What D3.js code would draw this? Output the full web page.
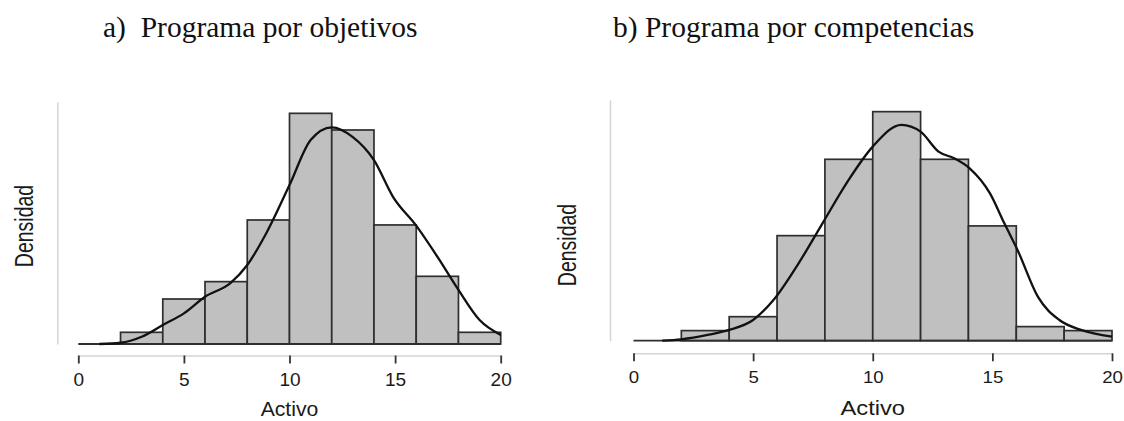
<!DOCTYPE html>
<html>
<head>
<meta charset="utf-8">
<script src="https://cdn.jsdelivr.net/npm/d3@7"></script>
<style>
  body { margin: 0; background: #fff; }
  svg { display: block; }
</style>
</head>
<body>
<svg id="chart" width="1124" height="421"></svg>
<script>
// histogram bins (start of each 2-wide bin) and densities
const binStarts = [2, 4, 6, 8, 10, 12, 14, 16, 18];
const binWidth = 2;
const densObjetivos = [0.0066, 0.0254, 0.0352, 0.0700, 0.1302, 0.1208, 0.0672, 0.0382, 0.0066];
const densCompetencias = [0.0058, 0.0138, 0.0604, 0.1043, 0.1317, 0.1043, 0.0660, 0.0081, 0.0058];

// density curves
const kdeXObjetivos = [1.0, 2.0, 3.0, 4.0, 5.0, 6.0, 7.2, 8.0, 8.9, 10, 11, 12, 13, 14, 14.9, 16, 17, 18, 19, 20];
const kdeYObjetivos = [0, 0.0007, 0.0041, 0.0107, 0.0173, 0.0267, 0.0343, 0.0446, 0.0625, 0.0897, 0.1151, 0.1223, 0.1168, 0.1038, 0.0831, 0.0668, 0.0493, 0.0305, 0.0135, 0.0051];
const kdeXCompetencias = [1.2, 2.0, 3.1, 4.0, 5.0, 5.85, 6.9, 7.9, 8.9, 10.0, 11.2, 12.0, 12.75, 13.4, 14.05, 14.9, 15.5, 16.05, 16.9, 17.8, 18.7, 20.0];
const kdeYCompetencias = [0, 0.0008, 0.0033, 0.0062, 0.0119, 0.0234, 0.0445, 0.0675, 0.0905, 0.1116, 0.1241, 0.1202, 0.1087, 0.1049, 0.0991, 0.0847, 0.0675, 0.0522, 0.0253, 0.0119, 0.0062, 0.0023];

const xTicks = [0, 5, 10, 15, 20];
const titles = ['a)  Programa por objetivos', 'b) Programa por competencias'];
const xLabel = 'Activo';
const yLabel = 'Densidad';

// layout of the two panels (the right one is a bit stretched sideways in the source)
const panels = [
  {
    title: titles[0], dens: densObjetivos, kx: kdeXObjetivos, ky: kdeYObjetivos,
    x0: 78.3, x1: 500.7, base: 344, top: 102, yMax: 0.1366,
    yAxisX: 57.3, xAxisY: 355.5, tickFont: 18, tickBase: 386,
    labelFont: 20, labelBase: 416, sx: 1.06,
    yLabX: 33, yLabY: 226, titleX: 103, titleY: 37
  },
  {
    title: titles[1], dens: densCompetencias, kx: kdeXCompetencias, ky: kdeYCompetencias,
    x0: 633.5, x1: 1112, base: 340.7, top: 100, yMax: 0.1384,
    yAxisX: 610, xAxisY: 353.3, tickFont: 16.5, tickBase: 383.5,
    labelFont: 21, labelBase: 415, sx: 1.13,
    yLabX: 576, yLabY: 245, titleX: 613, titleY: 37
  }
];

const svg = d3.select('#chart');
svg.append('rect').attr('width', 1124).attr('height', 421).attr('fill', '#fff');

panels.forEach((p) => {
  const x = d3.scaleLinear().domain([0, 20]).range([p.x0, p.x1]);
  const y = d3.scaleLinear().domain([0, p.yMax]).range([p.base, p.top]);
  const g = svg.append('g');

  // title
  g.append('text')
    .attr('x', p.titleX)
    .attr('y', p.titleY)
    .style('white-space', 'pre')
    .attr('font-family', '"Liberation Serif", "Times New Roman", serif')
    .attr('font-size', 29.5)
    .attr('fill', '#111')
    .text(p.title);

  // y axis: plain light line, no ticks
  const yAxis = g.append('g')
    .attr('transform', `translate(${p.yAxisX},0)`)
    .call(d3.axisLeft(y).tickValues([]).tickSizeOuter(0));
  yAxis.select('.domain').attr('stroke', '#d4d4d4').attr('stroke-width', 1.5);

  // x axis
  const xAxis = g.append('g')
    .attr('transform', `translate(0,${p.xAxisY})`)
    .call(d3.axisBottom(x).tickValues(xTicks).tickSize(8).tickSizeOuter(0));
  xAxis.select('.domain').attr('stroke', '#d4d4d4').attr('stroke-width', 1.5);
  xAxis.selectAll('.tick line').attr('stroke', '#333').attr('stroke-width', 1.8);
  xAxis.selectAll('.tick text')
    .attr('y', p.tickBase - p.xAxisY)
    .attr('dy', null)
    .attr('transform', `scale(${p.sx},1)`)
    .attr('x', 0)
    .attr('font-family', '"Liberation Sans", Arial, sans-serif')
    .attr('font-size', p.tickFont)
    .attr('fill', '#1a1a1a');

  // bars
  g.append('g').selectAll('rect')
    .data(binStarts.map((b, i) => ({ b, v: p.dens[i] })))
    .join('rect')
    .attr('x', (d) => x(d.b))
    .attr('width', (d) => x(d.b + binWidth) - x(d.b))
    .attr('y', (d) => y(d.v))
    .attr('height', (d) => y(0) - y(d.v))
    .attr('fill', '#c0c0c0')
    .attr('stroke', '#2e2e2e')
    .attr('stroke-width', 1.7);

  // base line under the bars
  g.append('line')
    .attr('x1', x(0)).attr('x2', x(20))
    .attr('y1', y(0)).attr('y2', y(0))
    .attr('stroke', '#2e2e2e')
    .attr('stroke-width', 1.8);

  // density curve
  const line = d3.line()
    .x((d) => x(d[0]))
    .y((d) => y(d[1]))
    .curve(d3.curveMonotoneX);
  g.append('path')
    .datum(p.kx.map((v, i) => [v, p.ky[i]]))
    .attr('d', line)
    .attr('fill', 'none')
    .attr('stroke', '#111')
    .attr('stroke-width', 2.3);

  // axis labels
  g.append('text')
    .attr('transform', `translate(${x(10)},${p.labelBase}) scale(${p.sx},1)`)
    .attr('text-anchor', 'middle')
    .attr('font-family', '"Liberation Sans", Arial, sans-serif')
    .attr('font-size', p.labelFont)
    .attr('fill', '#1a1a1a')
    .text(xLabel);

  g.append('text')
    .attr('transform', `translate(${p.yLabX},${p.yLabY}) rotate(-90) scale(1,1.3)`)
    .attr('text-anchor', 'middle')
    .attr('font-family', '"Liberation Sans", Arial, sans-serif')
    .attr('font-size', 19.5)
    .attr('fill', '#1a1a1a')
    .text(yLabel);
});
</script>
</body>
</html>
